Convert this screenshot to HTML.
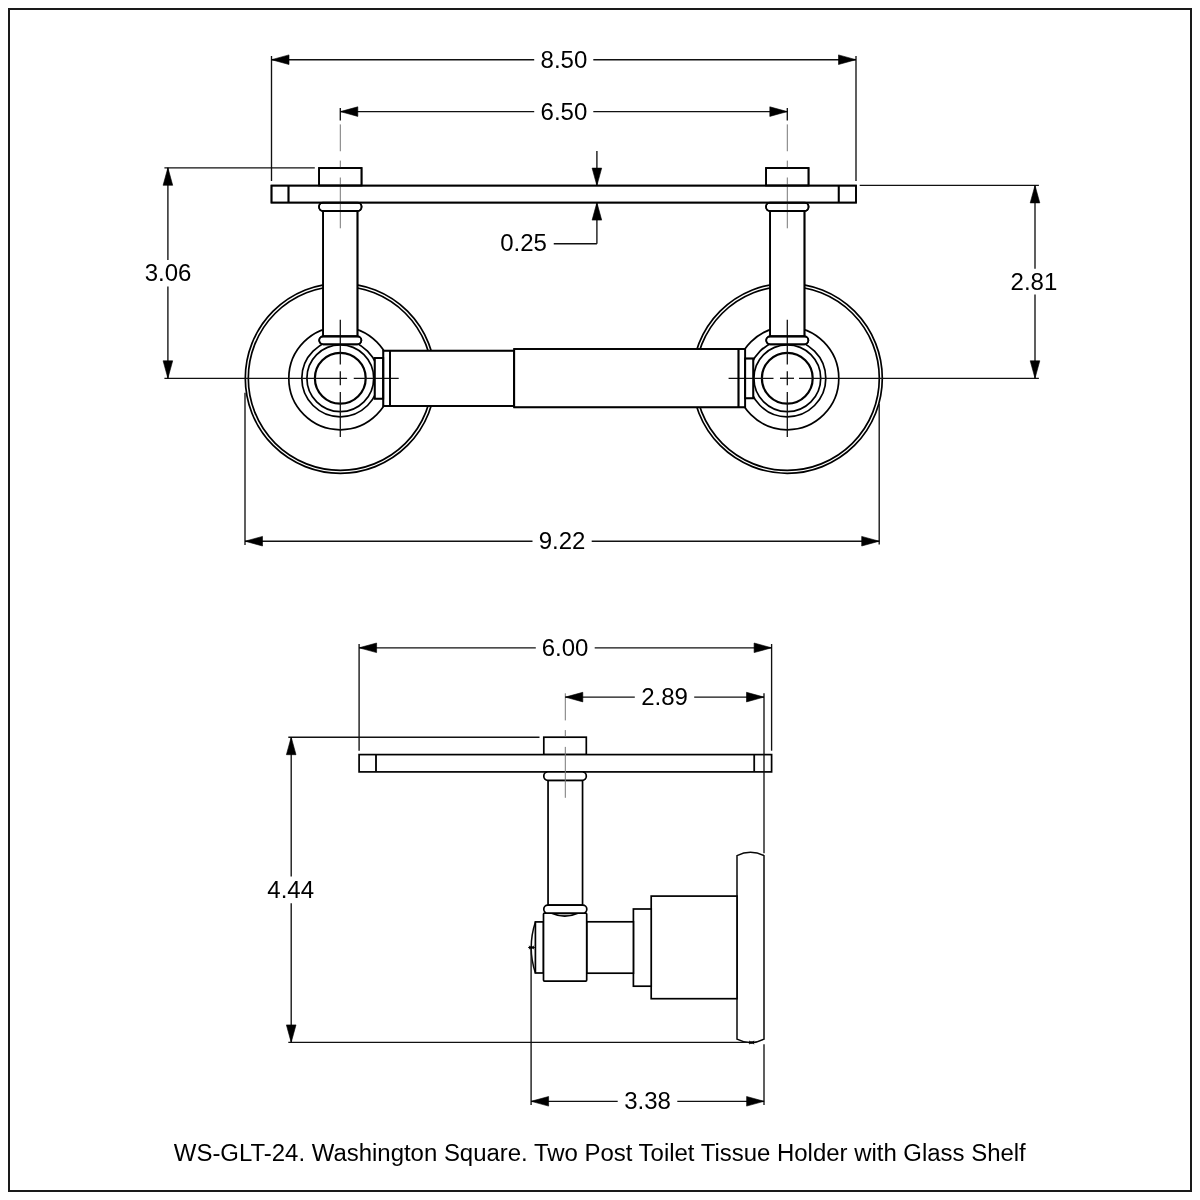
<!DOCTYPE html>
<html><head><meta charset="utf-8"><style>
html,body{margin:0;padding:0;background:#fff;}
svg{display:block;will-change:transform;}
text{font-family:"Liberation Sans",sans-serif;fill:#000;}
</style></head><body>
<svg width="1200" height="1200" viewBox="0 0 1200 1200">
<rect x="9" y="9" width="1182" height="1182" fill="none" stroke="#1a1a1a" stroke-width="2"/>
<circle cx="340.3" cy="378.3" r="95" stroke="#000" stroke-width="1.7" fill="none"/>
<circle cx="340.3" cy="378.3" r="92" stroke="#000" stroke-width="1.7" fill="none"/>
<circle cx="340.3" cy="378.3" r="51.5" stroke="#000" stroke-width="1.7" fill="none"/>
<circle cx="340.3" cy="378.3" r="38.5" stroke="#000" stroke-width="1.7" fill="none"/>
<circle cx="340.3" cy="378.3" r="33.4" stroke="#000" stroke-width="1.7" fill="none"/>
<circle cx="340.3" cy="378.3" r="25.4" stroke="#000" stroke-width="2.2" fill="none"/>
<circle cx="787.3" cy="378.3" r="95" stroke="#000" stroke-width="1.7" fill="none"/>
<circle cx="787.3" cy="378.3" r="92" stroke="#000" stroke-width="1.7" fill="none"/>
<circle cx="787.3" cy="378.3" r="51.5" stroke="#000" stroke-width="1.7" fill="none"/>
<circle cx="787.3" cy="378.3" r="38.5" stroke="#000" stroke-width="1.7" fill="none"/>
<circle cx="787.3" cy="378.3" r="33.4" stroke="#000" stroke-width="1.7" fill="none"/>
<circle cx="787.3" cy="378.3" r="25.4" stroke="#000" stroke-width="2.2" fill="none"/>
<rect x="323.1" y="211" width="34.4" height="125.4" stroke="#000" stroke-width="1.7" fill="#fff"/>
<rect x="319.2" y="336.4" width="42.2" height="7.9" rx="4" stroke="#000" stroke-width="1.7" fill="#fff"/>
<rect x="319.05" y="168" width="42.5" height="17.6" stroke="#000" stroke-width="1.7" fill="#fff"/>
<rect x="319.05" y="202.6" width="42.5" height="8.4" rx="4" stroke="#000" stroke-width="1.7" fill="#fff"/>
<rect x="770.0999999999999" y="211" width="34.4" height="125.4" stroke="#000" stroke-width="1.7" fill="#fff"/>
<rect x="766.1999999999999" y="336.4" width="42.2" height="7.9" rx="4" stroke="#000" stroke-width="1.7" fill="#fff"/>
<rect x="766.05" y="168" width="42.5" height="17.6" stroke="#000" stroke-width="1.7" fill="#fff"/>
<rect x="766.05" y="202.6" width="42.5" height="8.4" rx="4" stroke="#000" stroke-width="1.7" fill="#fff"/>
<rect x="271.5" y="185.6" width="584.5" height="17.0" stroke="#000" stroke-width="1.7" fill="#fff"/>
<line x1="288.5" y1="185.6" x2="288.5" y2="202.6" stroke="#000" stroke-width="1.7" fill="none"/>
<line x1="838.7" y1="185.6" x2="838.7" y2="202.6" stroke="#000" stroke-width="1.7" fill="none"/>
<rect x="374.7" y="358" width="8.6" height="40.7" stroke="#000" stroke-width="1.7" fill="#fff"/>
<rect x="383.3" y="350.7" width="130.9" height="55.3" stroke="#000" stroke-width="1.7" fill="#fff"/>
<line x1="390" y1="350.7" x2="390" y2="406" stroke="#000" stroke-width="1.7" fill="none"/>
<rect x="514.2" y="349" width="231.0" height="58.3" stroke="#000" stroke-width="1.7" fill="#fff"/>
<line x1="738.5" y1="349" x2="738.5" y2="407.3" stroke="#000" stroke-width="1.7" fill="none"/>
<rect x="745.2" y="358.5" width="8.1" height="39.8" stroke="#000" stroke-width="1.7" fill="#fff"/>
<line x1="340.3" y1="124.4" x2="340.3" y2="151.25" stroke="#777" stroke-width="1" fill="none"/>
<line x1="340.3" y1="160.6" x2="340.3" y2="168" stroke="#777" stroke-width="1" fill="none"/>
<line x1="340.3" y1="177.5" x2="340.3" y2="228.3" stroke="#777" stroke-width="1" fill="none"/>
<line x1="340.3" y1="319.7" x2="340.3" y2="364.6" stroke="#111" stroke-width="1.3" fill="none"/>
<line x1="340.3" y1="371.25" x2="340.3" y2="385.2" stroke="#111" stroke-width="1.3" fill="none"/>
<line x1="340.3" y1="392.1" x2="340.3" y2="436.9" stroke="#111" stroke-width="1.3" fill="none"/>
<line x1="340.3" y1="108.1" x2="340.3" y2="120.6" stroke="#111" stroke-width="1.35" fill="none"/>
<line x1="787.3" y1="124.4" x2="787.3" y2="151.25" stroke="#777" stroke-width="1" fill="none"/>
<line x1="787.3" y1="160.6" x2="787.3" y2="168" stroke="#777" stroke-width="1" fill="none"/>
<line x1="787.3" y1="177.5" x2="787.3" y2="228.3" stroke="#777" stroke-width="1" fill="none"/>
<line x1="787.3" y1="319.7" x2="787.3" y2="364.6" stroke="#111" stroke-width="1.3" fill="none"/>
<line x1="787.3" y1="371.25" x2="787.3" y2="385.2" stroke="#111" stroke-width="1.3" fill="none"/>
<line x1="787.3" y1="392.1" x2="787.3" y2="436.9" stroke="#111" stroke-width="1.3" fill="none"/>
<line x1="787.3" y1="108.1" x2="787.3" y2="120.6" stroke="#111" stroke-width="1.35" fill="none"/>
<line x1="353.75" y1="378.3" x2="398.7" y2="378.3" stroke="#111" stroke-width="1.3" fill="none"/>
<line x1="728.6" y1="378.3" x2="773.5" y2="378.3" stroke="#111" stroke-width="1.3" fill="none"/>
<line x1="780" y1="378.3" x2="794" y2="378.3" stroke="#111" stroke-width="1.3" fill="none"/>
<rect x="323.1" y="211" width="34.4" height="125.4" stroke="#000" stroke-width="1.7" fill="none"/>
<rect x="319.2" y="336.4" width="42.2" height="7.9" rx="4" stroke="#000" stroke-width="1.7" fill="none"/>
<rect x="319.05" y="168" width="42.5" height="17.6" stroke="#000" stroke-width="1.7" fill="none"/>
<rect x="319.05" y="202.6" width="42.5" height="8.4" rx="4" stroke="#000" stroke-width="1.7" fill="none"/>
<rect x="770.0999999999999" y="211" width="34.4" height="125.4" stroke="#000" stroke-width="1.7" fill="none"/>
<rect x="766.1999999999999" y="336.4" width="42.2" height="7.9" rx="4" stroke="#000" stroke-width="1.7" fill="none"/>
<rect x="766.05" y="168" width="42.5" height="17.6" stroke="#000" stroke-width="1.7" fill="none"/>
<rect x="766.05" y="202.6" width="42.5" height="8.4" rx="4" stroke="#000" stroke-width="1.7" fill="none"/>
<rect x="271.5" y="185.6" width="584.5" height="17.0" stroke="#000" stroke-width="1.7" fill="none"/>
<rect x="374.7" y="358" width="8.6" height="40.7" stroke="#000" stroke-width="1.7" fill="none"/>
<rect x="383.3" y="350.7" width="130.9" height="55.3" stroke="#000" stroke-width="1.7" fill="none"/>
<rect x="514.2" y="349" width="231.0" height="58.3" stroke="#000" stroke-width="1.7" fill="none"/>
<rect x="745.2" y="358.5" width="8.1" height="39.8" stroke="#000" stroke-width="1.7" fill="none"/>
<line x1="288.5" y1="185.6" x2="288.5" y2="202.6" stroke="#000" stroke-width="1.7" fill="none"/>
<line x1="838.7" y1="185.6" x2="838.7" y2="202.6" stroke="#000" stroke-width="1.7" fill="none"/>
<line x1="390" y1="350.7" x2="390" y2="406" stroke="#000" stroke-width="1.7" fill="none"/>
<line x1="738.5" y1="349" x2="738.5" y2="407.3" stroke="#000" stroke-width="1.7" fill="none"/>
<line x1="271.5" y1="56" x2="271.5" y2="181" stroke="#111" stroke-width="1.35" fill="none"/>
<line x1="856" y1="56" x2="856" y2="181" stroke="#111" stroke-width="1.35" fill="none"/>
<line x1="271.5" y1="59.7" x2="534.2" y2="59.7" stroke="#111" stroke-width="1.35" fill="none"/>
<line x1="593.3" y1="59.7" x2="856" y2="59.7" stroke="#111" stroke-width="1.35" fill="none"/>
<polygon points="271.50,59.70 289.00,54.90 289.00,64.50" fill="#000" stroke="#000" stroke-width="0.6"/>
<polygon points="856.00,59.70 838.50,54.90 838.50,64.50" fill="#000" stroke="#000" stroke-width="0.6"/>
<text x="563.9" y="67.5" font-size="24" text-anchor="middle">8.50</text>
<line x1="340.3" y1="111.6" x2="534.2" y2="111.6" stroke="#111" stroke-width="1.35" fill="none"/>
<line x1="593.3" y1="111.6" x2="787.3" y2="111.6" stroke="#111" stroke-width="1.35" fill="none"/>
<polygon points="340.30,111.60 357.80,106.80 357.80,116.40" fill="#000" stroke="#000" stroke-width="0.6"/>
<polygon points="787.30,111.60 769.80,106.80 769.80,116.40" fill="#000" stroke="#000" stroke-width="0.6"/>
<text x="563.9" y="119.6" font-size="24" text-anchor="middle">6.50</text>
<line x1="596.9" y1="151" x2="596.9" y2="185.6" stroke="#111" stroke-width="1.35" fill="none"/>
<polygon points="596.90,185.60 592.10,168.10 601.70,168.10" fill="#000" stroke="#000" stroke-width="0.6"/>
<line x1="596.9" y1="202.6" x2="596.9" y2="243.75" stroke="#111" stroke-width="1.35" fill="none"/>
<polygon points="596.90,202.60 592.10,220.10 601.70,220.10" fill="#000" stroke="#000" stroke-width="0.6"/>
<line x1="596.9" y1="243.75" x2="553.75" y2="243.75" stroke="#111" stroke-width="1.35" fill="none"/>
<text x="546.9" y="251.25" font-size="24" text-anchor="end">0.25</text>
<line x1="164.4" y1="167.8" x2="314.8" y2="167.8" stroke="#111" stroke-width="1.35" fill="none"/>
<line x1="164.4" y1="378.3" x2="347.1" y2="378.3" stroke="#111" stroke-width="1.35" fill="none"/>
<line x1="167.9" y1="167.8" x2="167.9" y2="259.9" stroke="#111" stroke-width="1.35" fill="none"/>
<line x1="167.9" y1="286.4" x2="167.9" y2="378.3" stroke="#111" stroke-width="1.35" fill="none"/>
<polygon points="167.90,167.80 163.10,185.30 172.70,185.30" fill="#000" stroke="#000" stroke-width="0.6"/>
<polygon points="167.90,378.30 163.10,360.80 172.70,360.80" fill="#000" stroke="#000" stroke-width="0.6"/>
<text x="168.1" y="281.2" font-size="24" text-anchor="middle">3.06</text>
<line x1="859.7" y1="185.4" x2="1038.9" y2="185.4" stroke="#111" stroke-width="1.35" fill="none"/>
<line x1="799" y1="378.3" x2="1038.9" y2="378.3" stroke="#111" stroke-width="1.35" fill="none"/>
<line x1="1035" y1="185.4" x2="1035" y2="268.7" stroke="#111" stroke-width="1.35" fill="none"/>
<line x1="1035" y1="294.6" x2="1035" y2="378.3" stroke="#111" stroke-width="1.35" fill="none"/>
<polygon points="1035.00,185.40 1030.20,202.90 1039.80,202.90" fill="#000" stroke="#000" stroke-width="0.6"/>
<polygon points="1035.00,378.30 1030.20,360.80 1039.80,360.80" fill="#000" stroke="#000" stroke-width="0.6"/>
<text x="1033.9" y="289.8" font-size="24" text-anchor="middle">2.81</text>
<line x1="245" y1="392.7" x2="245" y2="545" stroke="#111" stroke-width="1.35" fill="none"/>
<line x1="879.2" y1="403.75" x2="879.2" y2="544.6" stroke="#111" stroke-width="1.35" fill="none"/>
<line x1="245" y1="541.2" x2="532.5" y2="541.2" stroke="#111" stroke-width="1.35" fill="none"/>
<line x1="591.7" y1="541.2" x2="879.2" y2="541.2" stroke="#111" stroke-width="1.35" fill="none"/>
<polygon points="245.00,541.20 262.50,536.40 262.50,546.00" fill="#000" stroke="#000" stroke-width="0.6"/>
<polygon points="879.20,541.20 861.70,536.40 861.70,546.00" fill="#000" stroke="#000" stroke-width="0.6"/>
<text x="562.1" y="549.2" font-size="24" text-anchor="middle">9.22</text>
<path d="M737,855.6 A30,30 0 0 1 764,855.6 L764,1039.2 A29.3,29.3 0 0 1 737,1039.2 Z" stroke="#080808" stroke-width="1.5" fill="#fff"/>
<rect x="651.2" y="896.1" width="85.8" height="102.6" stroke="#000" stroke-width="1.7" fill="#fff"/>
<rect x="633.4" y="909" width="17.8" height="77.2" stroke="#000" stroke-width="1.7" fill="#fff"/>
<rect x="586.7" y="921.8" width="46.7" height="51.4" stroke="#000" stroke-width="1.7" fill="#fff"/>
<path d="M535.4,921.9 Q527,947.5 535.4,973" stroke="#080808" stroke-width="1.5" fill="none"/>
<rect x="535.4" y="921.9" width="8.1" height="51.1" stroke="#000" stroke-width="1.7" fill="#fff"/>
<rect x="543.5" y="913.2" width="43.2" height="67.9" rx="1" stroke="#000" stroke-width="1.7" fill="#fff"/>
<path d="M551.7,913.2 A32,32 0 0 0 577.8,913.2 Z" stroke="#000" stroke-width="1.6" fill="#b0b0b0"/>
<rect x="548.05" y="780.3" width="34.5" height="124.8" stroke="#000" stroke-width="1.7" fill="#fff"/>
<rect x="543.8" y="905.1" width="43.0" height="8.1" rx="4" stroke="#000" stroke-width="1.7" fill="#fff"/>
<rect x="543.8" y="737.2" width="42.5" height="17.4" stroke="#000" stroke-width="1.7" fill="#fff"/>
<rect x="359.1" y="754.6" width="412.5" height="17.3" stroke="#000" stroke-width="1.7" fill="#fff"/>
<line x1="376" y1="754.6" x2="376" y2="771.9" stroke="#080808" stroke-width="1.5" fill="none"/>
<line x1="754.3" y1="754.6" x2="754.3" y2="771.9" stroke="#080808" stroke-width="1.5" fill="none"/>
<rect x="543.8" y="771.9" width="42.5" height="8.4" rx="4" stroke="#000" stroke-width="1.7" fill="#fff"/>
<line x1="565.3" y1="693.3" x2="565.3" y2="720.4" stroke="#777" stroke-width="1" fill="none"/>
<line x1="565.3" y1="730.1" x2="565.3" y2="736.6" stroke="#777" stroke-width="1" fill="none"/>
<line x1="565.3" y1="746.9" x2="565.3" y2="797.8" stroke="#777" stroke-width="1" fill="none"/>
<line x1="376" y1="754.6" x2="376" y2="771.9" stroke="#080808" stroke-width="1.5" fill="none"/>
<line x1="754.3" y1="754.6" x2="754.3" y2="771.9" stroke="#080808" stroke-width="1.5" fill="none"/>
<line x1="359.1" y1="644" x2="359.1" y2="750.7" stroke="#111" stroke-width="1.35" fill="none"/>
<line x1="771.6" y1="644" x2="771.6" y2="750.7" stroke="#111" stroke-width="1.35" fill="none"/>
<line x1="359.1" y1="647.8" x2="535.8" y2="647.8" stroke="#111" stroke-width="1.35" fill="none"/>
<line x1="594.7" y1="647.8" x2="771.6" y2="647.8" stroke="#111" stroke-width="1.35" fill="none"/>
<polygon points="359.10,647.80 376.60,643.00 376.60,652.60" fill="#000" stroke="#000" stroke-width="0.6"/>
<polygon points="771.60,647.80 754.10,643.00 754.10,652.60" fill="#000" stroke="#000" stroke-width="0.6"/>
<text x="565" y="655.9" font-size="24" text-anchor="middle">6.00</text>
<line x1="764" y1="693.3" x2="764" y2="853.3" stroke="#111" stroke-width="1.35" fill="none"/>
<line x1="764" y1="1044.3" x2="764" y2="1105" stroke="#111" stroke-width="1.35" fill="none"/>
<line x1="565.3" y1="697.1" x2="634.8" y2="697.1" stroke="#111" stroke-width="1.35" fill="none"/>
<line x1="694.2" y1="697.1" x2="764" y2="697.1" stroke="#111" stroke-width="1.35" fill="none"/>
<polygon points="565.30,697.10 582.80,692.30 582.80,701.90" fill="#000" stroke="#000" stroke-width="0.6"/>
<polygon points="764.00,697.10 746.50,692.30 746.50,701.90" fill="#000" stroke="#000" stroke-width="0.6"/>
<text x="664.5" y="704.6" font-size="24" text-anchor="middle">2.89</text>
<line x1="288.3" y1="737.2" x2="539.5" y2="737.2" stroke="#111" stroke-width="1.35" fill="none"/>
<line x1="288.3" y1="1042.4" x2="751" y2="1042.4" stroke="#111" stroke-width="1.35" fill="none"/>
<line x1="291.2" y1="737.2" x2="291.2" y2="876.6" stroke="#111" stroke-width="1.35" fill="none"/>
<line x1="291.2" y1="903.2" x2="291.2" y2="1042.4" stroke="#111" stroke-width="1.35" fill="none"/>
<polygon points="291.20,737.20 286.40,754.70 296.00,754.70" fill="#000" stroke="#000" stroke-width="0.6"/>
<polygon points="291.20,1042.40 286.40,1024.90 296.00,1024.90" fill="#000" stroke="#000" stroke-width="0.6"/>
<text x="290.7" y="897.6" font-size="24" text-anchor="middle">4.44</text>
<line x1="531.1" y1="947.5" x2="531.1" y2="1105" stroke="#111" stroke-width="1.35" fill="none"/>
<line x1="531.1" y1="1101.3" x2="617.7" y2="1101.3" stroke="#111" stroke-width="1.35" fill="none"/>
<line x1="677.3" y1="1101.3" x2="764.1" y2="1101.3" stroke="#111" stroke-width="1.35" fill="none"/>
<polygon points="531.10,1101.30 548.60,1096.50 548.60,1106.10" fill="#000" stroke="#000" stroke-width="0.6"/>
<polygon points="764.10,1101.30 746.60,1096.50 746.60,1106.10" fill="#000" stroke="#000" stroke-width="0.6"/>
<text x="647.5" y="1109" font-size="24" text-anchor="middle">3.38</text>
<path d="M528.20,947.50L534.80,947.50M528.90,946.00L534.10,949.00M528.90,949.00L534.10,946.00" stroke="#000" stroke-width="1" fill="none"/>
<circle cx="531.5" cy="947.5" r="1.2" fill="#000"/>
<path d="M748.30,1042.50L754.90,1042.50M749.00,1041.00L754.20,1044.00M749.00,1044.00L754.20,1041.00" stroke="#000" stroke-width="1" fill="none"/>
<circle cx="751.6" cy="1042.5" r="1.2" fill="#000"/>
<text x="599.8" y="1160.9" font-size="23.94" text-anchor="middle">WS-GLT-24. Washington Square. Two Post Toilet Tissue Holder with Glass Shelf</text>
</svg>
</body></html>
